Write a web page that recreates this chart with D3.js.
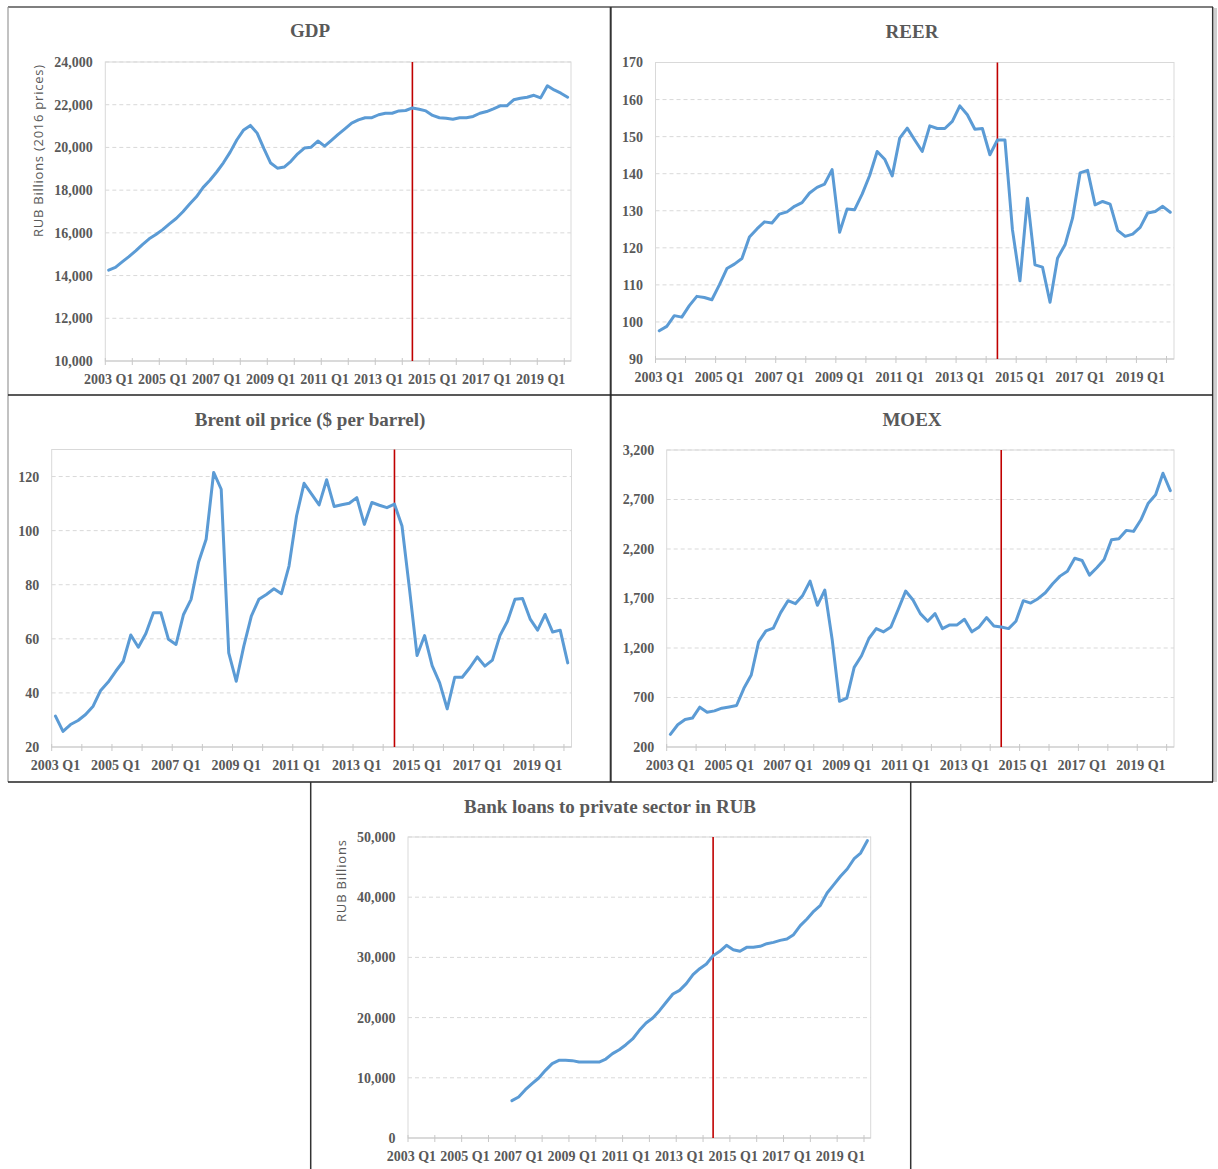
<!DOCTYPE html>
<html>
<head>
<meta charset="utf-8">
<title>Russia macro panels</title>
<style>
  body { margin: 0; background: #fff; }
  .tick-lbl text { font-family: 'Liberation Serif', 'Times New Roman', serif; font-weight: bold; font-size: 14px; fill: #595959; }
  .title { font-family: 'Liberation Serif', 'Times New Roman', serif; font-weight: bold; font-size: 19px; fill: #595959; }
  .ytitle { font-family: 'Open Sans', sans-serif; font-size: 13px; fill: #595959; }
  .grid { stroke: #d9d9d9; stroke-dasharray: 4,3; }
  .series { fill: none; stroke: #5b9bd5; stroke-width: 3; stroke-linejoin: round; stroke-linecap: round; }
</style>
</head>
<body>
<svg id="chart" width="1218" height="1169"></svg>
<script src="https://cdn.jsdelivr.net/npm/d3@7"></script>
<script>

// categories: quarters 2003 Q1 .. 2020 Q1
var years = [2003, 2004, 2005, 2006, 2007, 2008, 2009, 2010, 2011, 2012, 2013, 2014, 2015, 2016, 2017, 2018, 2019, 2020]
var qtrs = ['Q1', 'Q2', 'Q3', 'Q4']
var quarters = years.flatMap(y => qtrs.map(q => y + ' ' + q)).slice(0, 69)

var xLabels = ['2003 Q1', '2005 Q1', '2007 Q1', '2009 Q1', '2011 Q1', '2013 Q1', '2015 Q1', '2017 Q1', '2019 Q1']
var breakQuarter = '2014 Q2'   // red vertical marker

// series values
var gdp = [14250, 14380, 14640, 14890, 15160, 15450, 15720, 15920, 16150, 16420,
  16670, 16990, 17350, 17690, 18130, 18460, 18850, 19280, 19780, 20360,
  20820, 21030, 20670, 19940, 19270, 19030, 19080, 19350, 19700, 19970,
  20010, 20300, 20060, 20330, 20610, 20870, 21140, 21290, 21390, 21390,
  21530, 21600, 21600, 21710, 21730, 21850, 21790, 21710, 21500, 21390,
  21370, 21320, 21390, 21390, 21450, 21600, 21680, 21810, 21950, 21950,
  22230, 22300, 22350, 22440, 22320, 22890, 22690, 22540, 22350]

var reer = [97.6, 98.8, 101.7, 101.3, 104.4, 106.9, 106.6, 106.0, 110.0, 114.4,
  115.6, 117.1, 122.9, 125.1, 127.0, 126.7, 129.1, 129.7, 131.2, 132.2,
  134.8, 136.3, 137.2, 141.1, 124.2, 130.5, 130.3, 134.5, 139.5, 146.0,
  143.9, 139.4, 149.6, 152.3, 149.1, 146.0, 152.9, 152.2, 152.2, 154.1,
  158.3, 155.9, 152.0, 152.2, 145.1, 149.1, 149.1, 124.9, 111.1, 133.4,
  115.4, 114.8, 105.3, 117.2, 120.8, 128.0, 140.2, 140.9, 131.6, 132.5,
  131.8, 124.7, 123.1, 123.7, 125.5, 129.4, 129.8, 131.2, 129.6]

var brent = [31.4, 25.8, 28.3, 29.8, 32.0, 35.1, 40.9, 44.0, 48.0, 51.7,
  61.4, 56.9, 62.0, 69.6, 69.6, 59.8, 57.9, 69.0, 74.6, 88.4,
  96.8, 121.5, 115.3, 54.8, 44.3, 57.3, 68.4, 74.6, 76.4, 78.5,
  76.7, 86.9, 105.4, 117.5, 113.5, 109.5, 118.8, 108.9, 109.6, 110.1,
  112.2, 102.3, 110.4, 109.4, 108.5, 109.8, 101.7, 78.3, 53.8, 61.2,
  50.1, 43.7, 34.1, 45.8, 45.8, 49.3, 53.3, 49.9, 52.1, 61.2,
  66.5, 74.6, 74.9, 67.4, 63.2, 69.0, 62.5, 63.2, 51.1]

var moex = [327, 425, 478, 492, 602, 552, 565, 592, 605, 619,
  793, 927, 1262, 1373, 1400, 1557, 1678, 1648, 1731, 1876,
  1631, 1785, 1289, 662, 693, 1004, 1122, 1296, 1396, 1363,
  1413, 1591, 1775, 1685, 1547, 1470, 1547, 1396, 1433, 1433,
  1490, 1363, 1413, 1507, 1423, 1413, 1396, 1470, 1678, 1654,
  1698, 1758, 1849, 1926, 1976, 2107, 2084, 1936, 2010, 2093,
  2294, 2304, 2388, 2378, 2495, 2663, 2747, 2965, 2790]

// no data before 2006 Q4
var bankLoans = [null, null, null, null, null, null, null, null, null, null,
  null, null, null, null, null, 6200, 6810, 8030, 9030, 9970,
  11240, 12350, 12900, 12900, 12850, 12620, 12620, 12620, 12620, 13120,
  14010, 14670, 15500, 16450, 17880, 19100, 19930, 21150, 22540, 23920,
  24530, 25640, 27130, 28130, 28900, 30290, 31010, 32000, 31280, 31010,
  31670, 31670, 31840, 32280, 32500, 32830, 33060, 33780, 35270, 36380,
  37650, 38650, 40700, 42080, 43470, 44680, 46350, 47340, 49390]

var gdpTicks = [10000, 12000, 14000, 16000, 18000, 20000, 22000, 24000]
var reerTicks = [90, 100, 110, 120, 130, 140, 150, 160, 170]
var brentTicks = [20, 40, 60, 80, 100, 120]
var moexTicks = [200, 700, 1200, 1700, 2200, 2700, 3200]
var bankTicks = [0, 10000, 20000, 30000, 40000, 50000]


let svg = d3.select('#chart')

// ---- panel frames ----
let frame = svg.append('g').attr('fill', 'none')
frame.append('line').attr('x1', 1215.5).attr('y1', 8).attr('x2', 1215.5).attr('y2', 782).attr('stroke', '#cfcfcf').attr('stroke-width', 3)
frame.append('line').attr('x1', 8).attr('y1', 7).attr('x2', 1213).attr('y2', 7).attr('stroke', '#555').attr('stroke-width', 1.3)
frame.append('line').attr('x1', 8).attr('y1', 7).attr('x2', 8).attr('y2', 782).attr('stroke', '#999').attr('stroke-width', 1.2)
frame.append('line').attr('x1', 1212.7).attr('y1', 7).attr('x2', 1212.7).attr('y2', 782).attr('stroke', '#333').attr('stroke-width', 1.5)
frame.append('line').attr('x1', 610.7).attr('y1', 7).attr('x2', 610.7).attr('y2', 782).attr('stroke', '#333').attr('stroke-width', 2)
frame.append('line').attr('x1', 8).attr('y1', 395).attr('x2', 1213).attr('y2', 395).attr('stroke', '#222').attr('stroke-width', 1.5)
frame.append('line').attr('x1', 8).attr('y1', 782).attr('x2', 1213).attr('y2', 782).attr('stroke', '#222').attr('stroke-width', 1.5)
frame.append('line').attr('x1', 310.7).attr('y1', 782).attr('x2', 310.7).attr('y2', 1169).attr('stroke', '#333').attr('stroke-width', 1.5)
frame.append('line').attr('x1', 910.7).attr('y1', 782).attr('x2', 910.7).attr('y2', 1169).attr('stroke', '#333').attr('stroke-width', 1.5)


function drawPanel(p) {
	let x = d3.scaleBand().domain(quarters).range([p.left, p.right]).padding(0)
	let y = d3.scaleLinear().domain([p.ticks[0], p.yMax]).range([p.bottom, p.top])
	let bw = x.bandwidth()

	let g = svg.append('g')

	// plot area outline
	g.append('rect')
		.attr('x', p.left).attr('y', p.top)
		.attr('width', p.right - p.left).attr('height', p.bottom - p.top)
		.attr('fill', 'none').attr('stroke', '#d9d9d9')

	// dashed gridlines
	g.selectAll('.grid')
		.data(p.ticks.slice(1))
		.enter().append('line')
		.attr('class', 'grid')
		.attr('x1', p.left).attr('x2', p.right)
		.attr('y1', d => y(d)).attr('y2', d => y(d))

	// x axis line + tick marks every 4 quarters
	g.append('line')
		.attr('x1', p.left).attr('x2', p.right)
		.attr('y1', p.bottom).attr('y2', p.bottom)
		.attr('stroke', '#c8c8c8')
	g.selectAll('.xtick')
		.data(quarters.filter((q, i) => i % 4 === 0))
		.enter().append('line')
		.attr('x1', d => x(d)).attr('x2', d => x(d))
		.attr('y1', p.bottom - 3).attr('y2', p.bottom + 4)
		.attr('stroke', '#c8c8c8')

	// y labels
	g.append('g')
		.attr('class', 'tick-lbl')
		.attr('transform', 'translate(' + p.left + ',0)')
		.call(d3.axisLeft(y).tickValues(p.ticks).tickFormat(p.fmt).tickSize(0).tickPadding(12.5))
		.call(a => a.select('.domain').remove())

	// x labels (centred on the category)
	g.append('g')
		.attr('class', 'tick-lbl')
		.attr('transform', 'translate(0,' + p.bottom + ')')
		.call(d3.axisBottom(x).tickValues(xLabels).tickSize(0).tickPadding(13))
		.call(a => a.select('.domain').remove())

	g.selectAll('.tick-lbl text').attr('font-family', null).attr('font-size', null)

	// red marker
	g.append('line')
		.attr('x1', x(breakQuarter) + bw / 2).attr('x2', x(breakQuarter) + bw / 2)
		.attr('y1', p.top).attr('y2', p.bottom)
		.attr('stroke', '#c00000').attr('stroke-width', 1.6)

	// series
	let line = d3.line()
		.defined(d => d != null)
		.x((d, i) => x(quarters[i]) + bw / 2)
		.y(d => y(d))
	g.append('path')
		.attr('class', 'series')
		.attr('d', line(p.values))

	// title
	g.append('text')
		.attr('class', 'title')
		.attr('x', p.titleX).attr('y', p.titleY)
		.attr('text-anchor', 'middle')
		.text(p.title)

	if (p.yTitle) {
		g.append('text')
			.attr('class', 'ytitle')
			.attr('transform', 'translate(' + p.yTitleX + ',' + p.yTitleY + ') rotate(-90)')
			.attr('text-anchor', 'middle')
			.attr('textLength', p.yTitleLen)
			.attr('lengthAdjust', 'spacing')
			.text(p.yTitle)
	}
}

let comma = d3.format(',')
let plain = d3.format('d')

drawPanel({ title: 'GDP', values: gdp, ticks: gdpTicks, yMax: 24000, fmt: comma,
	left: 105.3, right: 571, top: 62, bottom: 361, titleX: 310, titleY: 37,
	yTitle: 'RUB Billions (2016 prices)', yTitleX: 43, yTitleY: 151, yTitleLen: 172 })

drawPanel({ title: 'REER', values: reer, ticks: reerTicks, yMax: 170, fmt: plain,
	left: 655.5, right: 1174, top: 62.5, bottom: 359, titleX: 912, titleY: 37.5 })

drawPanel({ title: 'Brent oil price ($ per barrel)', values: brent, ticks: brentTicks, yMax: 130, fmt: plain,
	left: 51.7, right: 571.5, top: 449.5, bottom: 747, titleX: 310, titleY: 426 })

drawPanel({ title: 'MOEX', values: moex, ticks: moexTicks, yMax: 3200, fmt: comma,
	left: 666.7, right: 1174, top: 450, bottom: 747, titleX: 912, titleY: 426 })

drawPanel({ title: 'Bank loans to private sector in RUB', values: bankLoans, ticks: bankTicks, yMax: 50000, fmt: comma,
	left: 408, right: 870.7, top: 837, bottom: 1138, titleX: 610, titleY: 813,
	yTitle: 'RUB Billions', yTitleX: 346, yTitleY: 881, yTitleLen: 82 })

</script>
</body>
</html>
